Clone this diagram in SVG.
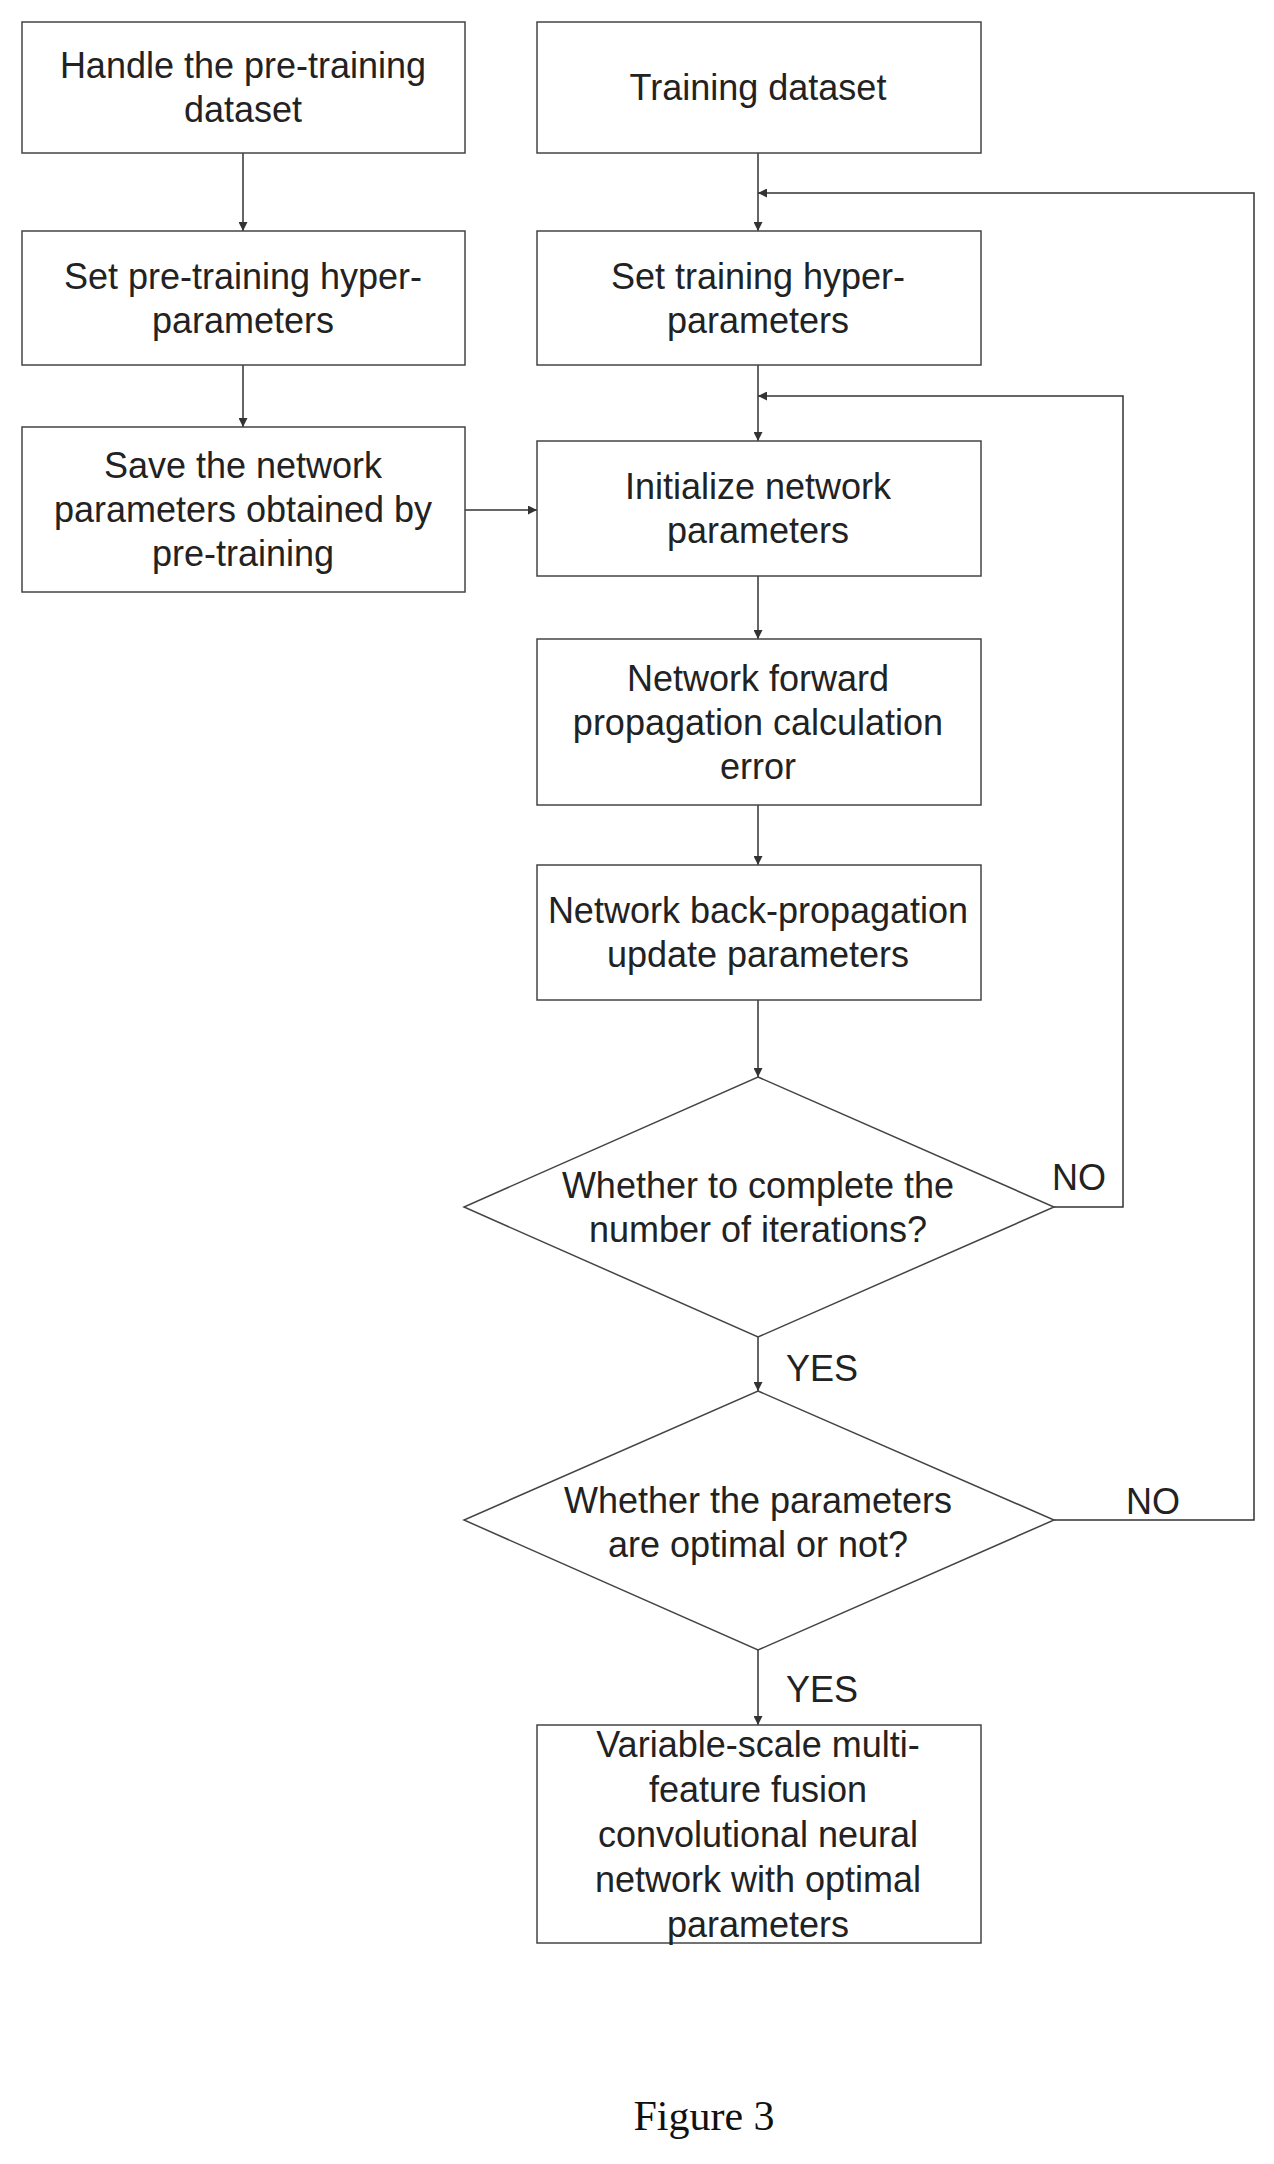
<svg xmlns="http://www.w3.org/2000/svg" width="1274" height="2164" viewBox="0 0 1274 2164">
<style>
.b{fill:#fff;stroke:#444;stroke-width:1.5}
.t{font-family:"Liberation Sans",Arial,sans-serif;font-size:36px;fill:#222;text-anchor:middle}
.c{fill:none;stroke:#333;stroke-width:1.5}
</style>
<defs><marker id="a" viewBox="0 0 10 10" refX="10" refY="5" markerWidth="9" markerHeight="9" orient="auto" markerUnits="userSpaceOnUse"><path d="M0,0L10,5L0,10z" fill="#333"/></marker></defs>
<rect width="1274" height="2164" fill="#fff"/>
<g id="connectors">
<path class="c" d="M243,153V231" marker-end="url(#a)"/>
<path class="c" d="M243,365V427" marker-end="url(#a)"/>
<path class="c" d="M465,510H537" marker-end="url(#a)"/>
<path class="c" d="M758,153V231" marker-end="url(#a)"/>
<path class="c" d="M758,365V441" marker-end="url(#a)"/>
<path class="c" d="M758,576V639" marker-end="url(#a)"/>
<path class="c" d="M758,805V865" marker-end="url(#a)"/>
<path class="c" d="M758,1000V1077" marker-end="url(#a)"/>
<path class="c" d="M758,1337V1391" marker-end="url(#a)"/>
<path class="c" d="M758,1650V1725" marker-end="url(#a)"/>
<path class="c" d="M1054,1207H1123V396H758" marker-end="url(#a)"/>
<path class="c" d="M1054,1520H1254V193H758" marker-end="url(#a)"/>
<text class="t" x="1079" y="1190">NO</text>
<text class="t" x="1153" y="1514">NO</text>
<text class="t" x="822" y="1381">YES</text>
<text class="t" x="822" y="1702">YES</text>
</g>
<g id="n1"><rect class="b" x="22" y="22" width="443" height="131"/><text class="t" x="243" y="78">Handle the pre-training</text><text class="t" x="243" y="122">dataset</text></g>
<g id="n2"><rect class="b" x="22" y="231" width="443" height="134"/><text class="t" x="243" y="289">Set pre-training hyper-</text><text class="t" x="243" y="333">parameters</text></g>
<g id="n3"><rect class="b" x="22" y="427" width="443" height="165"/><text class="t" x="243" y="478">Save the network</text><text class="t" x="243" y="522">parameters obtained by</text><text class="t" x="243" y="566">pre-training</text></g>
<g id="r1"><rect class="b" x="537" y="22" width="444" height="131"/><text class="t" x="758" y="100">Training dataset</text></g>
<g id="r2"><rect class="b" x="537" y="231" width="444" height="134"/><text class="t" x="758" y="289">Set training hyper-</text><text class="t" x="758" y="333">parameters</text></g>
<g id="r3"><rect class="b" x="537" y="441" width="444" height="135"/><text class="t" x="758" y="499">Initialize network</text><text class="t" x="758" y="543">parameters</text></g>
<g id="r4"><rect class="b" x="537" y="639" width="444" height="166"/><text class="t" x="758" y="691">Network forward</text><text class="t" x="758" y="735">propagation calculation</text><text class="t" x="758" y="779">error</text></g>
<g id="r5"><rect class="b" x="537" y="865" width="444" height="135"/><text class="t" x="758" y="923">Network back-propagation</text><text class="t" x="758" y="967">update parameters</text></g>
<g id="d1"><path class="b" d="M758,1077L1054,1207L758,1337L464,1207Z"/><text class="t" x="758" y="1198">Whether to complete the</text><text class="t" x="758" y="1242">number of iterations?</text></g>
<g id="d2"><path class="b" d="M758,1391L1054,1520L758,1650L464,1520Z"/><text class="t" x="758" y="1513">Whether the parameters</text><text class="t" x="758" y="1557">are optimal or not?</text></g>
<g id="r6"><rect class="b" x="537" y="1725" width="444" height="218"/><text class="t" x="758" y="1757">Variable-scale multi-</text><text class="t" x="758" y="1802">feature fusion</text><text class="t" x="758" y="1847">convolutional neural</text><text class="t" x="758" y="1892">network with optimal</text><text class="t" x="758" y="1937">parameters</text></g>
<text x="704" y="2130" font-family="'Liberation Serif','Times New Roman',serif" font-size="42" fill="#111" text-anchor="middle">Figure 3</text>
</svg>
